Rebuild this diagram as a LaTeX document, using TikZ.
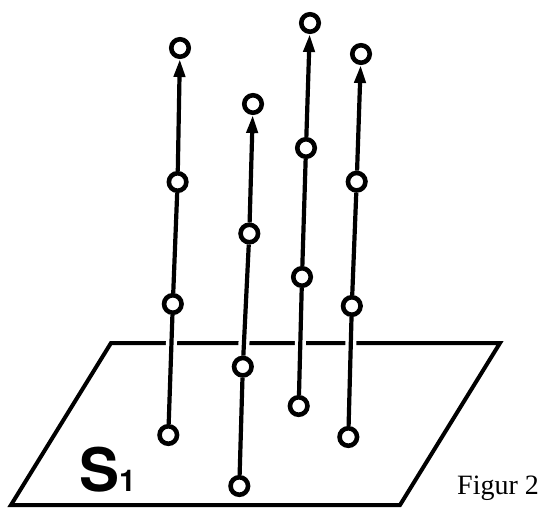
\documentclass[tikz,border=0pt]{standalone}
\usepackage{fontspec}
\setmainfont{Liberation Serif}
\newfontfamily\helv{TeX Gyre Heros}
\usetikzlibrary{arrows.meta,backgrounds}
\tikzset{
  pt/.style={circle,draw=black,fill=white,line width=4.6pt,minimum size=17.5pt,inner sep=0pt},
  rod/.style={line width=4.2pt,preaction={draw=white,line width=11pt}},
  up/.style={-{Triangle[length=18pt,width=11pt]}},
  plane/.style={line width=4pt,line join=miter}
}
\begin{document}
\begin{tikzpicture}[x=1pt,y=-1pt]
\useasboundingbox (0,0) rectangle (540,516);
% points of the four rods
\node[pt] (a1) at (168.3,435) {};
\node[pt] (a2) at (172.8,304) {};
\node[pt] (a3) at (177.6,182) {};
\node[pt] (a4) at (180,48) {};
\node[pt] (b1) at (239.3,486) {};
\node[pt] (b2) at (242.8,366.7) {};
\node[pt] (b3) at (249.3,233.5) {};
\node[pt] (b4) at (253,104) {};
\node[pt] (c1) at (298.7,406) {};
\node[pt] (c2) at (302,277) {};
\node[pt] (c3) at (306,148) {};
\node[pt] (c4) at (310,23) {};
\node[pt] (d1) at (348.3,437) {};
\node[pt] (d2) at (351.8,306) {};
\node[pt] (d3) at (356.7,181.7) {};
\node[pt] (d4) at (361,54) {};
% plane corners
\coordinate (p1) at (11,505);
\coordinate (p2) at (400,505);
\coordinate (p3) at (500,343);
\coordinate (p4) at (111,343);
\begin{scope}[on background layer]
\draw[plane] (p1) -- (p2) -- (p3) -- (p4) -- cycle;
\draw[rod] (a1) -- (a2) -- (a3);
\draw[rod,up] (a3) -- (a4);
\draw[rod] (b1) -- (b2) -- (b3);
\draw[rod,up] (b3) -- (b4);
\draw[rod] (c1) -- (c2) -- (c3);
\draw[rod,up] (c3) -- (c4);
\draw[rod] (d1) -- (d2) -- (d3);
\draw[rod,up] (d3) -- (d4);
\end{scope}
\node[anchor=base west,inner sep=0pt] (s) at (79,491) {\helv\bfseries\fontsize{60}{60}\selectfont S\fontsize{30}{30}\selectfont 1};
\node[anchor=base west,inner sep=0pt] (fig) at (457,494) {\fontsize{28}{28}\selectfont Figur 2};
\end{tikzpicture}
\end{document}
